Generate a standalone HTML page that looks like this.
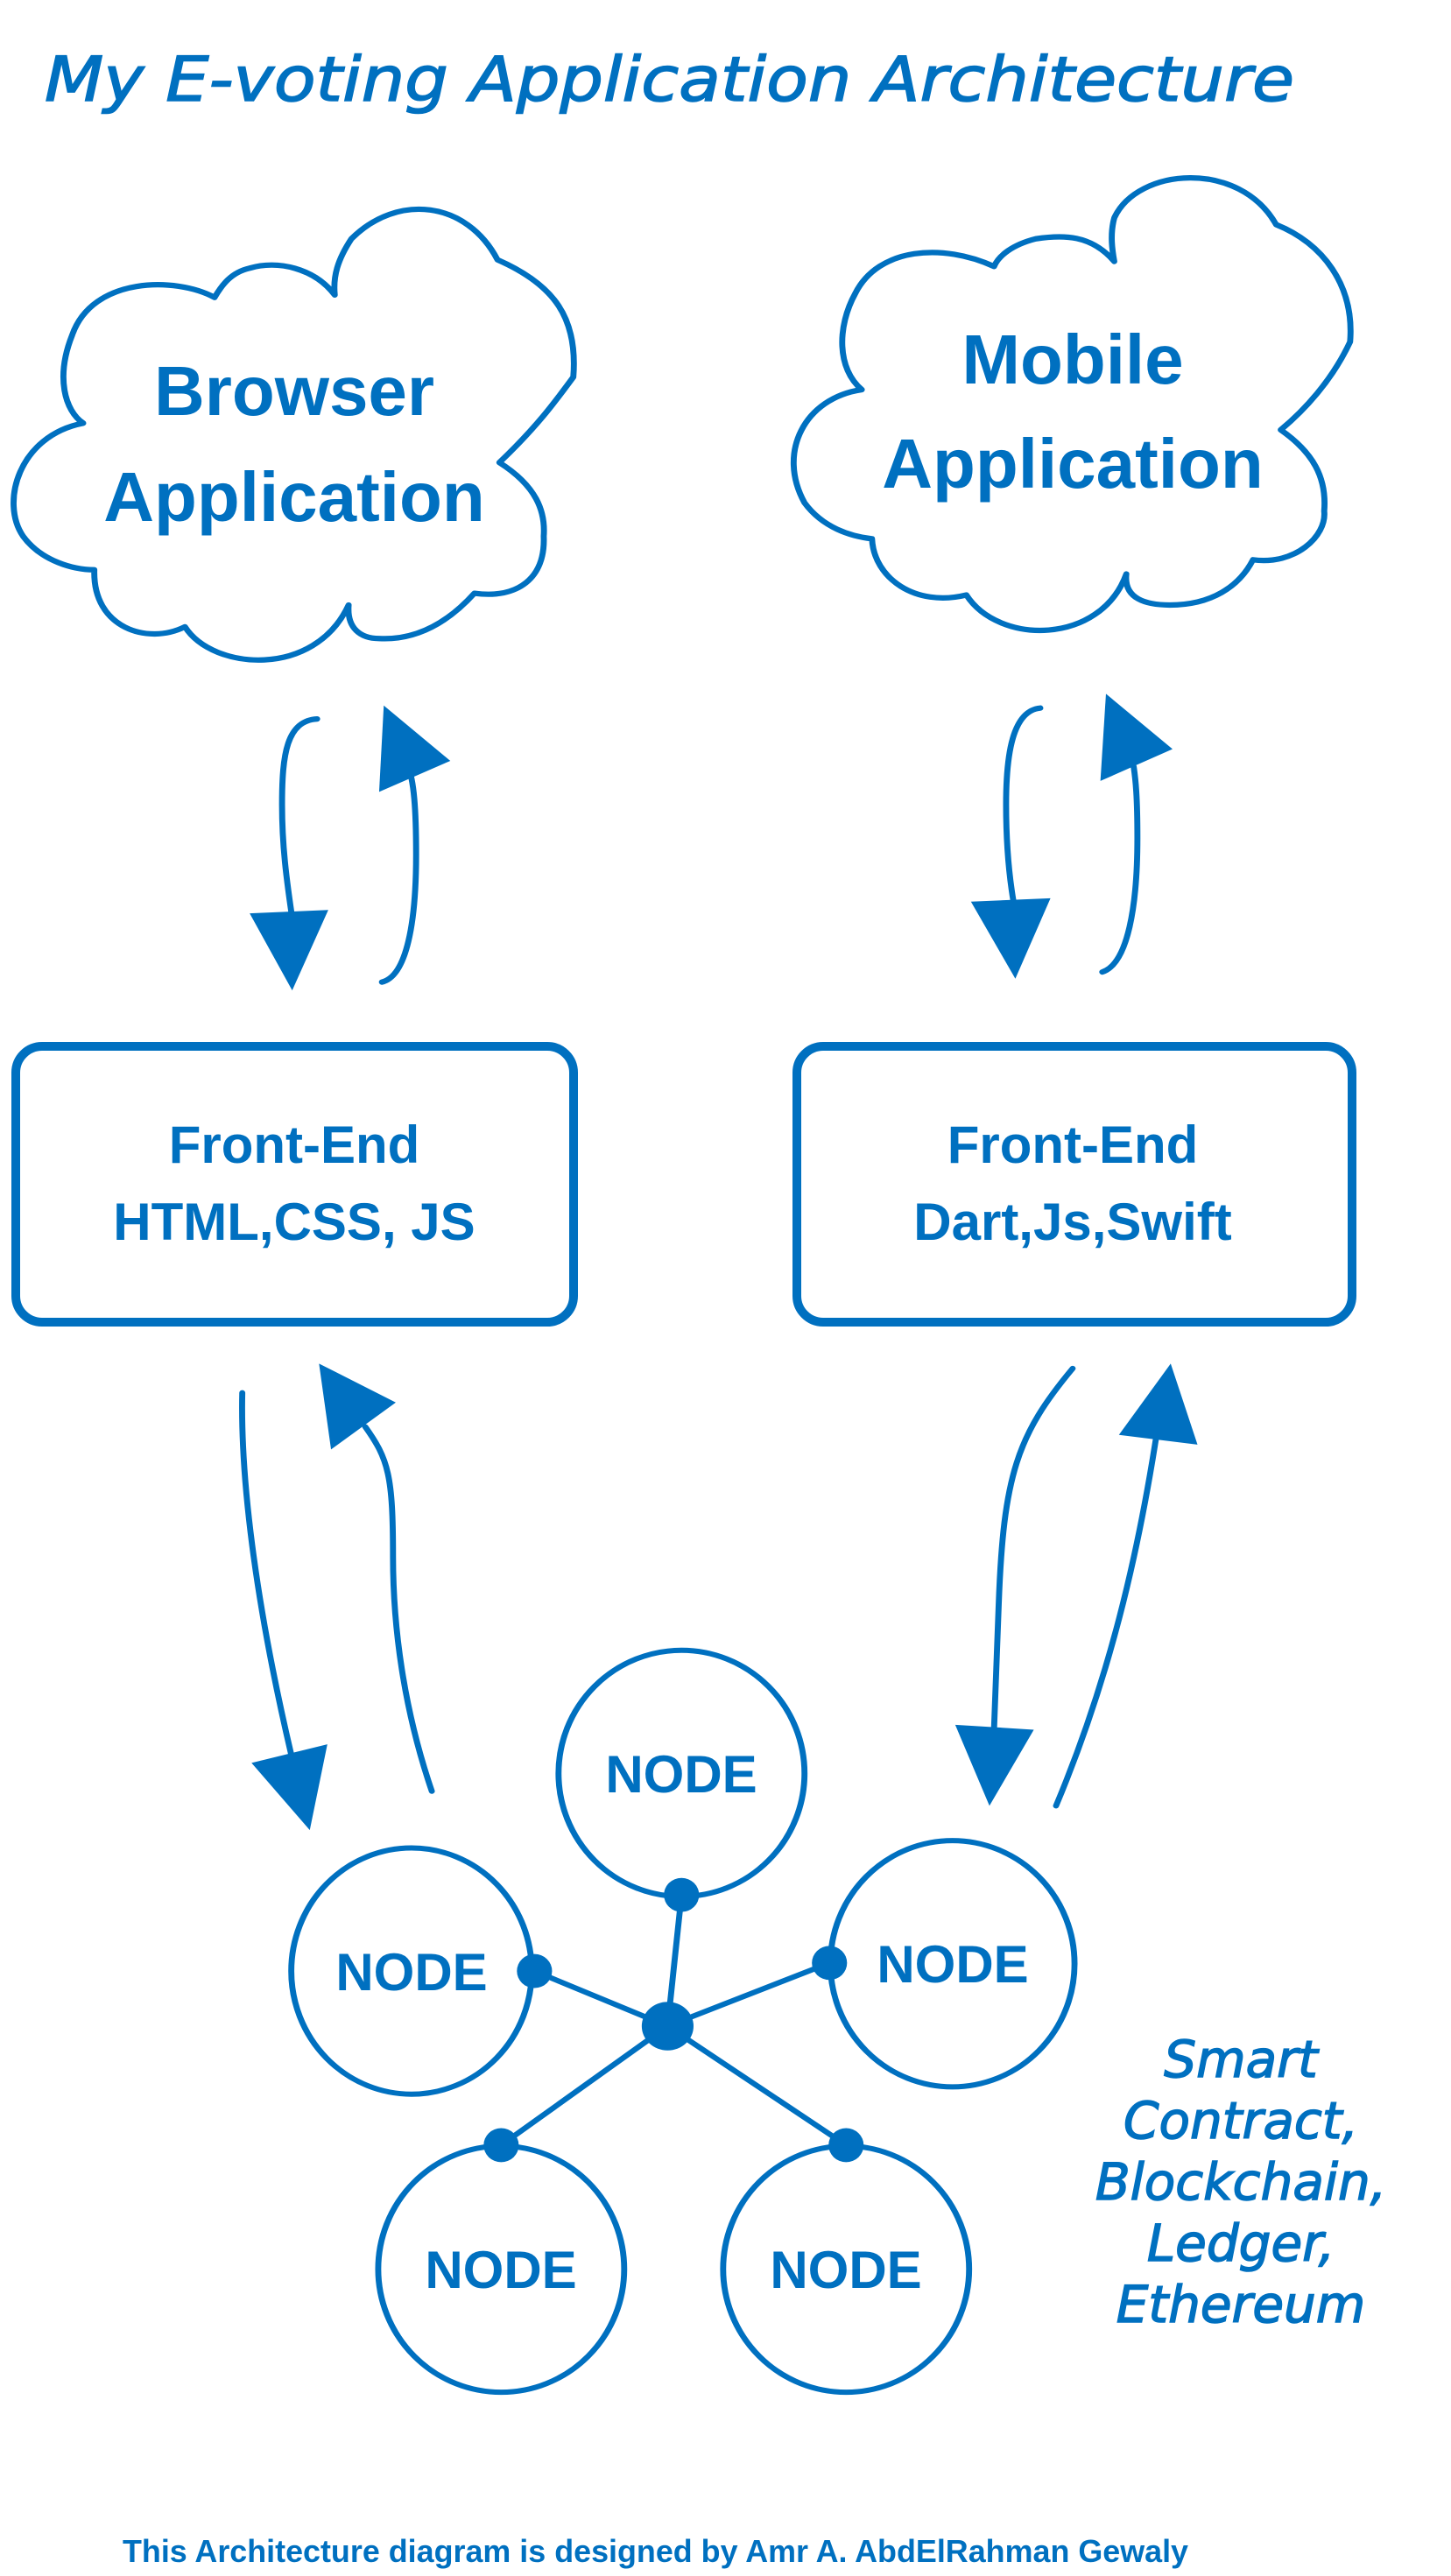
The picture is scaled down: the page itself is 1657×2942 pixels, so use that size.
<!DOCTYPE html>
<html><head><meta charset="utf-8"><style>
html,body{margin:0;padding:0;background:#fff}
svg{display:block}
.b{font-family:"Liberation Sans",sans-serif;font-weight:bold;fill:#0070C0}
.h{font-family:"DejaVu Sans","Liberation Sans",sans-serif;font-style:oblique;fill:#0070C0;stroke:#0070C0;stroke-width:1.5}
</style></head><body>
<svg width="1657" height="2942" viewBox="0 0 1657 2942" xmlns="http://www.w3.org/2000/svg">
<text class="h" x="51" y="115" font-size="70" textLength="1427" lengthAdjust="spacingAndGlyphs">My E-voting Application Architecture</text>

<g transform="scale(1.056,0.957)" fill="none" stroke="#0070C0" stroke-width="6.5" stroke-linecap="round" stroke-linejoin="round">
<path d="M232,355 C190,330 100,330 78,400 C60,450 70,490 90,505 C20,520 0,600 25,640 C45,670 80,680 102,680 C100,750 160,770 200,748 C230,800 340,810 377,722 C375,750 390,762 410,762 C460,765 495,730 513,708 C560,715 590,690 588,640 C590,610 580,580 540,552 C580,510 600,480 620,450 C625,380 600,340 538,310 C505,240 430,230 380,285 C365,310 360,330 362,352 C340,320 300,310 270,320 C250,325 240,340 232,355 Z"/>
<path d="M1075,318 C1020,290 950,295 925,350 C905,390 905,440 932,465 C870,475 840,540 870,600 C890,630 920,640 943,643 C945,690 990,725 1045,710 C1080,770 1190,770 1218,685 C1215,715 1240,722 1265,722 C1310,722 1340,700 1355,668 C1400,675 1435,640 1432,610 C1435,570 1420,540 1385,513 C1410,490 1440,455 1460,408 C1465,340 1430,290 1380,268 C1340,190 1230,200 1205,260 C1200,280 1203,300 1205,312 C1180,280 1150,280 1120,285 C1095,292 1080,305 1075,318 Z"/>
<path d="M343,858 C310,860 305,900 305,960 C305,1010 310,1050 315,1088"/>
<path d="M413,1172 C440,1165 450,1100 450,1020 C450,960 447,935 443,920"/>
<path d="M1125,845 C1095,848 1088,900 1088,960 C1088,1010 1092,1050 1096,1076"/>
<path d="M1192,1160 C1220,1150 1230,1080 1230,1000 C1230,950 1228,930 1226,915"/>
</g>
<g transform="scale(1.056,0.957)" fill="#0070C0" stroke="none">
<polygon points="270,1090 355,1086 316,1182"/>
<polygon points="415,842 410,945 487,908"/>
<polygon points="1050,1076 1136,1072 1098,1168"/>
<polygon points="1196,828 1190,932 1268,894"/>
</g>
<text class="b" x="336" y="474" font-size="80" text-anchor="middle">Browser</text>
<text class="b" x="336" y="595" font-size="80" text-anchor="middle">Application</text>
<text class="b" x="1225" y="438" font-size="80" text-anchor="middle">Mobile</text>
<text class="b" x="1225" y="557" font-size="80" text-anchor="middle">Application</text>

<rect x="18" y="1195" width="637" height="315" rx="30" fill="none" stroke="#0070C0" stroke-width="10"/>
<rect x="910" y="1195" width="634" height="315" rx="30" fill="none" stroke="#0070C0" stroke-width="10"/>
<text class="b" x="336" y="1328" font-size="60" text-anchor="middle">Front-End</text>
<text class="b" x="336" y="1416" font-size="60" text-anchor="middle">HTML,CSS, JS</text>
<text class="b" x="1225" y="1328" font-size="60" text-anchor="middle">Front-End</text>
<text class="b" x="1225" y="1416" font-size="60" text-anchor="middle">Dart,Js,Swift</text>

<g transform="translate(0,1500) scale(1.056,0.925)" fill="none" stroke="#0070C0" stroke-width="6.5" stroke-linecap="round">
<path d="M262,98 C260,200 275,350 315,545"/>
<path d="M467,590 C440,500 425,400 425,300 C425,200 420,180 395,140"/>
<path d="M1160,68 C1100,150 1085,200 1080,360 L1075,512"/>
<path d="M1142,608 C1200,450 1230,300 1250,155"/>
<ellipse cx="737" cy="568" rx="133" ry="152"/>
<ellipse cx="445" cy="812" rx="130" ry="152"/>
<ellipse cx="1030" cy="803" rx="132" ry="152"/>
<ellipse cx="542" cy="1180" rx="133" ry="152"/>
<ellipse cx="915" cy="1180" rx="133" ry="152"/>
<path d="M722,880 L737,718 M722,880 L578,812 M722,880 L897,802 M722,880 L542,1027 M722,880 L915,1027"/>
</g>
<g transform="translate(0,1500) scale(1.056,0.925)" fill="#0070C0">
<polygon points="272,555 354,532 335,638"/>
<polygon points="345,62 358,168 428,110"/>
<polygon points="1033,508 1118,514 1070,608"/>
<polygon points="1266,62 1210,150 1295,162"/>
<ellipse cx="737" cy="718" rx="19" ry="21"/>
<ellipse cx="578" cy="812" rx="19" ry="21"/>
<ellipse cx="897" cy="802" rx="19" ry="21"/>
<ellipse cx="542" cy="1027" rx="19" ry="21"/>
<ellipse cx="915" cy="1027" rx="19" ry="21"/>
<ellipse cx="722" cy="880" rx="28" ry="30"/>
</g>
<g class="b" font-size="60" text-anchor="middle">
<text x="778" y="2047">NODE</text>
<text x="470" y="2273">NODE</text>
<text x="1088" y="2264">NODE</text>
<text x="572" y="2613">NODE</text>
<text x="966" y="2613">NODE</text>
</g>
<g class="h" font-size="58" text-anchor="middle">
<text x="1417" y="2372">Smart</text>
<text x="1417" y="2442">Contract,</text>
<text x="1417" y="2512">Blockchain,</text>
<text x="1417" y="2582">Ledger,</text>
<text x="1417" y="2652">Ethereum</text>
</g>
<text class="b" x="140" y="2926" font-size="36" textLength="1217" lengthAdjust="spacingAndGlyphs">This Architecture diagram is designed by Amr A. AbdElRahman Gewaly</text>
</svg>
</body></html>
